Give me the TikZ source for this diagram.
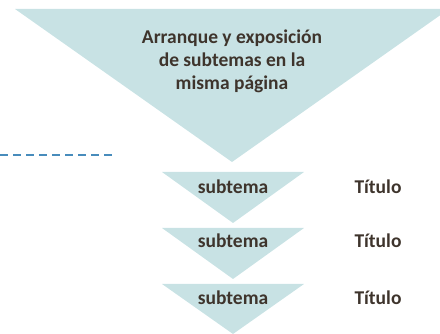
\documentclass[tikz,border=0pt]{standalone}
\usepackage{fontspec}
\setmainfont{Carlito}
\usetikzlibrary{positioning}

\definecolor{pale}{RGB}{200,226,228}
\definecolor{ink}{RGB}{62,52,44}
\definecolor{guide}{RGB}{72,140,188}

\begin{document}
\begin{tikzpicture}[
    x=1pt, y=1pt,
    funnel/.style={
        fill=pale,
    },
    guideline/.style={
        guide,
        line width=1.8pt,
        dash pattern=on 8pt off 5pt,
    },
    heading/.style={
        font=\fontsize{19.5}{23}\selectfont\bfseries,
        text=ink,
        align=center,
        inner sep=0pt,
    },
    tag/.style={
        font=\fontsize{19.5}{22}\selectfont\bfseries,
        text=ink,
        inner sep=0pt,
    }
]
    \useasboundingbox (0,0) rectangle (440,334);
    \clip (0,0) rectangle (440,334);

    % Big funnel
    \fill[funnel] (15,325) -- (449,325) -- (232,172) -- cycle;
    \node[heading] (intro) at (232,273) {Arranque y exposición\\de subtemas en la\\misma página};

    % Dashed guide
    \coordinate (guidestart) at (0,179);
    \coordinate (guideend) at (113,179);
    \draw[guideline] (guidestart) -- (guideend);

    % Small funnels
    \fill[funnel] (162,162) -- (304,162) -- (233,111) -- cycle;
    \fill[funnel] (162,106) -- (304,106) -- (233,55) -- cycle;
    \fill[funnel] (162,50) -- (304,50) -- (233,0) -- cycle;

    % Subtopics
    \node[tag] (sub1) at (233,147) {subtema};
    \node[tag] (sub2) at (233,93) {subtema};
    \node[tag] (sub3) at (233,36) {subtema};

    % Titles
    \node[tag] (title1) at (378,147) {Título};
    \node[tag] (title2) at (378,93) {Título};
    \node[tag] (title3) at (378,36) {Título};
\end{tikzpicture}
\end{document}
